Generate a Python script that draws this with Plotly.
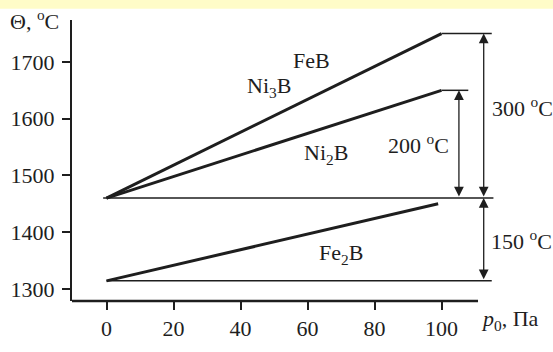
import plotly.graph_objects as go

# ---- data ----
p_main = [0, 100]
feb_ni3b = [1460, 1750]
ni2b = [1460, 1650]
p_fe2b = [0, 99]
fe2b = [1314, 1450]

base_high = 1460
base_low = 1314
shelf_feb_x = [100, 115]
shelf_ni2b_x = [100, 108]
base_high_x = [-1, 115.5]
base_low_x = [0, 115]

arrow_200_x = 105.2
arrow_300_x = 112.6

x_ticks = [0, 20, 40, 60, 80, 100]
y_ticks = [1300, 1400, 1500, 1600, 1700]

x_range = [-10.3, 130]
y_range = [1278.5, 1774]
x_axis_end = 110.9

FONT = "Liberation Serif"
INK = "#1e1e1e"

fig = go.Figure()

def seg(x, y, w):
    fig.add_trace(go.Scatter(x=x, y=y, mode="lines",
                             line=dict(color=INK, width=w), showlegend=False,
                             hoverinfo="skip"))

seg(p_main, feb_ni3b, 3)
seg(p_main, ni2b, 3)
seg(p_fe2b, fe2b, 3)
seg(shelf_feb_x, [feb_ni3b[1]] * 2, 1.5)
seg(shelf_ni2b_x, [ni2b[1]] * 2, 1.5)
seg(base_high_x, [base_high] * 2, 1.5)
seg(base_low_x, [base_low] * 2, 1.5)

annotations = []

def darrow(x, y0, y1):
    annotations.append(dict(x=x, y=y1, ax=x, ay=y0, xref="x", yref="y",
                            axref="x", ayref="y", text="", showarrow=True,
                            arrowhead=2, startarrowhead=2, arrowside="end+start",
                            arrowwidth=1.3, arrowsize=1.5, startarrowsize=1.5,
                            arrowcolor=INK))

darrow(arrow_200_x, base_high, ni2b[1])
darrow(arrow_300_x, base_high, feb_ni3b[1])
darrow(arrow_300_x, base_low, base_high)

def label(x, y, t):
    annotations.append(dict(x=x, y=y, xref="x", yref="y", text=t, showarrow=False,
                            font=dict(family=FONT, size=22, color=INK)))

label(61.2, 1703, "FeB")
label(48.5, 1655, "Ni<sub>3</sub>B")
label(65.6, 1538, "Ni<sub>2</sub>B")
label(93, 1556, "200 <sup>o</sup>C")
label(124.2, 1621, "300 <sup>o</sup>C")
label(124.0, 1386, "150 <sup>o</sup>C")
label(70, 1361, "Fe<sub>2</sub>B")

annotations.append(dict(x=-0.136, y=1.0, xref="paper", yref="paper", text="Θ, <sup>o</sup>C",
                        showarrow=False, xanchor="left", yanchor="middle",
                        font=dict(family=FONT, size=22, color=INK)))
annotations.append(dict(x=0.866, y=-0.067, xref="paper", yref="paper",
                        text="<i>p</i><sub>0</sub>, Па",
                        showarrow=False, xanchor="left", yanchor="middle",
                        font=dict(family=FONT, size=22, color=INK)))

x_end_paper = (x_axis_end - x_range[0]) / (x_range[1] - x_range[0])

shapes = [
    dict(type="rect", xref="paper", yref="paper", x0=-0.2, x1=1.2, y0=1.04, y1=1.1,
         fillcolor="#FFFCC8", line=dict(width=0), layer="below"),
    dict(type="line", xref="paper", yref="paper", x0=0, x1=x_end_paper, y0=0, y1=0,
         line=dict(color=INK, width=2.5)),
]

fig.update_layout(
    width=553, height=352,
    margin=dict(l=65, r=11, t=20, b=32),
    paper_bgcolor="white", plot_bgcolor="white",
    annotations=annotations, shapes=shapes,
    font=dict(family=FONT, size=22, color=INK),
    xaxis=dict(range=x_range, tickvals=x_ticks, ticks="outside", ticklen=8,
               tickwidth=1.5, tickcolor=INK, showline=False, showgrid=False,
               zeroline=False, tickfont=dict(family=FONT, size=22, color=INK)),
    yaxis=dict(range=y_range, tickvals=y_ticks, ticks="outside", ticklen=8,
               tickwidth=1.5, tickcolor=INK, showline=True, linecolor=INK,
               linewidth=2, showgrid=False, zeroline=False,
               ticklabelstandoff=3,
               tickfont=dict(family=FONT, size=22, color=INK)),
)

fig.write_html("out.html",
               config={"displayModeBar": False},
               post_script="document.body.style.margin='0';document.body.style.overflow='hidden';")
